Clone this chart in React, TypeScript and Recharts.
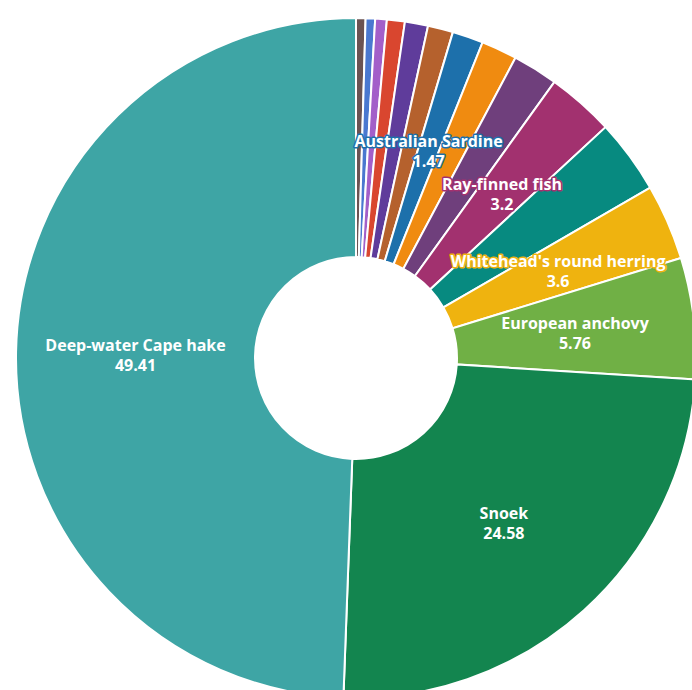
import { PieChart, Pie, Cell } from 'recharts';

// clockwise from 12 o'clock
const species = [
  'Cape gurnard',
  'Cape bream',
  'Kob',
  'Yellowtail amberjack',
  'Silver kob',
  'Cape horse mackerel',
  'Australian Sardine',
  'Chub mackerel',
  'Shallow-water Cape hake',
  'Ray-finned fish',
  'Kingklip',
  "Whitehead's round herring",
  'European anchovy',
  'Snoek',
  'Deep-water Cape hake',
];
const shares = [0.45, 0.45, 0.55, 0.85, 1.1, 1.2, 1.47, 1.7, 2.15, 3.2, 3.53, 3.6, 5.76, 24.58, 49.41];
const COLORS = [
  '#6b5352',
  '#4a78d0',
  '#a35fc9',
  '#d9462f',
  '#5f3c9b',
  '#b5612d',
  '#1d70ab',
  '#f08b10',
  '#6f3f7c',
  '#a2316f',
  '#078a80',
  '#efb30f',
  '#70b045',
  '#13854f',
  '#3ea5a5',
];
const labeled = [
  'Australian Sardine',
  'Ray-finned fish',
  "Whitehead's round herring",
  'European anchovy',
  'Snoek',
  'Deep-water Cape hake',
];

const data = species.map((name, i) => ({ name, value: shares[i] }));

const RADIAN = Math.PI / 180;

const renderLabel = (props: any) => {
  const { cx, cy, midAngle, innerRadius, outerRadius, index } = props;
  const d = data[index];
  if (!labeled.includes(d.name)) return null;
  const r = (innerRadius + outerRadius) / 2;
  const x = cx + r * Math.cos(-midAngle * RADIAN);
  const y = cy + r * Math.sin(-midAngle * RADIAN);
  const color = COLORS[index];
  const style = {
    fontFamily: '"Open Sans", sans-serif',
    fontWeight: 700,
    fontSize: 16,
    fill: '#fff',
    stroke: color,
    strokeWidth: 3,
    strokeLinejoin: 'round' as const,
    paintOrder: 'stroke',
  };
  return (
    <text x={x} y={y} textAnchor="middle" style={style}>
      <tspan x={x} dy={-3}>{d.name}</tspan>
      <tspan x={x} dy={20}>{d.value}</tspan>
    </text>
  );
};

export default function App() {
  return (
    <div style={{ position: 'absolute', left: 0, top: 0, background: '#fff' }}>
      <PieChart width={692} height={690}>
        <Pie
          data={data}
          dataKey="value"
          nameKey="name"
          cx={351}
          cy={353}
          innerRadius={101}
          outerRadius={340}
          startAngle={90}
          endAngle={-270}
          stroke="#fff"
          strokeWidth={2}
          label={renderLabel}
          labelLine={false}
          isAnimationActive={false}
        >
          {data.map((entry, index) => (
            <Cell key={`cell-${index}`} fill={COLORS[index]} />
          ))}
        </Pie>
      </PieChart>
    </div>
  );
}
